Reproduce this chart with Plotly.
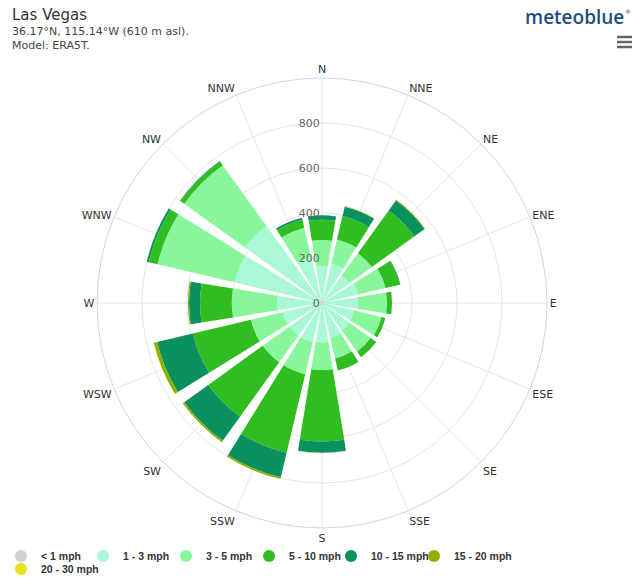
import plotly.graph_objects as go

directions = ["N", "NNE", "NE", "ENE", "E", "ESE", "SE", "SSE",
              "S", "SSW", "SW", "WSW", "W", "WNW", "NW", "NNW"]

speed_classes = ["< 1 mph", "1 - 3 mph", "3 - 5 mph", "5 - 10 mph",
                 "10 - 15 mph", "15 - 20 mph", "20 - 30 mph"]

# hours per direction for each speed class
lt1    = [12, 12, 12, 12, 12, 12, 12, 12, 12, 12, 12, 12, 12, 12, 12, 12]
s1_3   = [153, 168, 138, 153, 148, 135, 138, 148, 163, 166, 166, 168, 188, 388, 410, 198]
s3_5   = [115, 110, 123, 125, 129, 125, 117, 93, 123, 147, 147, 145, 201, 351, 333, 132]
s5_10  = [90, 107, 234, 65, 22, 17, 30, 54, 318, 359, 298, 265, 141, 40, 20, 38]
s10_15 = [20, 43, 55, 3, 1, 0, 0, 1, 49, 112, 132, 163, 49, 9, 3, 9]
s15_20 = [0, 2, 3, 0, 0, 0, 0, 0, 1, 8, 8, 15, 5, 0, 0, 0]
s20_30 = [0, 0, 0, 0, 0, 0, 0, 0, 0, 0, 0, 2, 0, 0, 0, 0]

series = [lt1, s1_3, s3_5, s5_10, s10_15, s15_20, s20_30]
colors = ["#d0d0d0", "#aaf8d5", "#88f79c", "#30bd20", "#0b9160", "#8db000", "#e4e41e"]

radial_ticks = [0, 200, 400, 600, 800]

# legend entry placement (marker centre x, row centre y) in pixels
legend_pos = [(28, 556), (110, 556), (193, 556), (276, 556), (358, 556), (441, 556), (28, 569)]

W, H = 638, 579
cx, cy, R = 322, 303, 225

fig = go.Figure()
for name, vals, col in zip(speed_classes, series, colors):
    fig.add_trace(go.Barpolar(
        r=vals, theta=directions, name=name,
        marker=dict(color=col, line=dict(width=0)),
        width=0.82, showlegend=False, hoverinfo="r+theta+name"))

legend_layouts = {}
for i, (name, col) in enumerate(zip(speed_classes, colors)):
    key = "legend" if i == 0 else f"legend{i + 1}"
    fig.add_trace(go.Scatterpolar(
        r=[None], theta=[None], mode="markers", name=name,
        marker=dict(color=col, size=11, symbol="circle"), showlegend=True,
        legend=key))
    mx, my = legend_pos[i]
    legend_layouts[key] = dict(
        x=(mx - 27) / W, y=1 - my / H, xanchor="left", yanchor="middle",
        orientation="h",
        font=dict(size=10.5, color="#333333", family="Liberation Sans", weight="bold"),
        itemsizing="constant", bgcolor="rgba(0,0,0,0)")

fig.update_layout(
    width=W, height=H,
    margin=dict(l=0, r=0, t=0, b=0, autoexpand=False),
    paper_bgcolor="white",
    font=dict(family="DejaVu Sans", size=11, color="#333333"),
    polar=dict(
        domain=dict(x=[(cx - R) / W, (cx + R) / W], y=[1 - (cy + R) / H, 1 - (cy - R) / H]),
        bgcolor="white",
        barmode="stack",
        bargap=0,
        angularaxis=dict(
            direction="clockwise", rotation=90,
            categoryorder="array", categoryarray=directions,
            showline=True, linecolor="#ccd6eb", linewidth=1,
            gridcolor="#e6e6e6", ticks="",
            tickfont=dict(size=11, color="#333333")),
        radialaxis=dict(
            range=[0, 1000], angle=90, side="counterclockwise",
            tickvals=radial_ticks, ticktext=[str(v) for v in radial_ticks],
            showline=False, ticks="", gridcolor="#e6e6e6",
            tickfont=dict(size=11, color="#666666"), tickangle=90),
    ),
    showlegend=True,
    **legend_layouts,
)

fig.add_annotation(text="Las Vegas", xref="paper", yref="paper",
                   x=10 / W, y=1 - 4 / H, xanchor="left", yanchor="top",
                   showarrow=False, font=dict(size=15, color="#333333"))
fig.add_annotation(text="36.17°N, 115.14°W (610 m asl).<br>Model: ERA5T.", xref="paper", yref="paper",
                   x=10 / W, y=1 - 23 / H, xanchor="left", yanchor="top", align="left",
                   showarrow=False, font=dict(size=11, color="#444444"))
fig.add_annotation(text="meteoblue", xref="paper", yref="paper",
                   x=626 / W, y=1 - 2 / H, xanchor="right", yanchor="top",
                   showarrow=False, font=dict(size=19, color="#1e4f7b", family="Open Sans", weight=600))
fig.add_annotation(text="®", xref="paper", yref="paper",
                   x=633 / W, y=1 - 6 / H, xanchor="right", yanchor="top",
                   showarrow=False, font=dict(size=6, color="#1e4f7b"))

for yy in (37, 42, 47):
    fig.add_shape(type="line", xref="paper", yref="paper",
                  x0=617 / W, x1=632 / W, y0=1 - yy / H, y1=1 - yy / H,
                  line=dict(color="#666666", width=2.5))

fig.write_html("out.html", config={"displayModeBar": False},
               post_script="document.body.style.margin='0';document.body.style.overflow='hidden';")
